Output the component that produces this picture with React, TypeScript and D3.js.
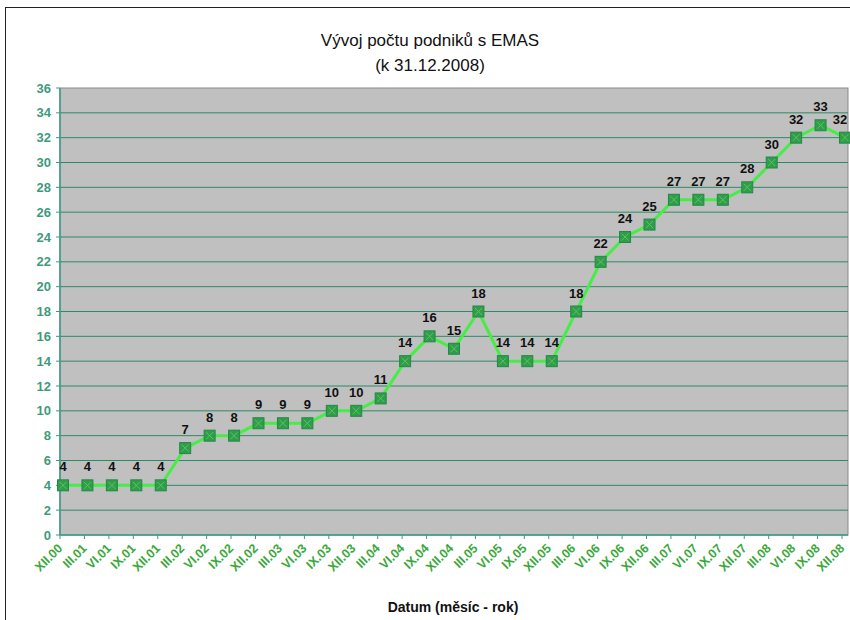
import * as d3 from "d3";

const categories = [
  "XII.00", "III.01", "VI.01", "IX.01", "XII.01", "III.02", "VI.02", "IX.02",
  "XII.02", "III.03", "VI.03", "IX.03", "XII.03", "III.04", "VI.04", "IX.04",
  "XII.04", "III.05", "VI.05", "IX.05", "XII.05", "III.06", "VI.06", "IX.06",
  "XII.06", "III.07", "VI.07", "IX.07", "XII.07", "III.08", "VI.08", "IX.08",
  "XII.08",
];
const counts = [
  4, 4, 4, 4, 4, 7, 8, 8, 9, 9, 9, 10, 10, 11, 14, 16, 15, 18, 14, 14, 14, 18,
  22, 24, 25, 27, 27, 27, 28, 30, 32, 33, 32,
];
const yTicks = d3.range(0, 37, 2);
const title = ["Vývoj počtu podniků s EMAS", "(k 31.12.2008)"];
const xTitle = "Datum (měsíc - rok)";

export default function App() {
  const width = 850;
  const height = 620;
  const plot = { left: 60, right: 848, top: 88, bottom: 535 };

  const x = d3.scalePoint<string>().domain(categories).range([63, 845]);
  const y = d3.scaleLinear().domain([0, 36]).range([plot.bottom, plot.top]);

  const data = categories.map((c, i) => ({ c, v: counts[i] }));
  const line = d3
    .line<{ c: string; v: number }>()
    .x((d) => x(d.c)!)
    .y((d) => y(d.v));

  const font = "Arial, 'Liberation Sans', sans-serif";

  return (
    <svg
      width={width}
      height={height}
      style={{ position: "absolute", left: 0, top: 0, background: "#fff" }}
      fontFamily={font}
    >
      {/* outer frame */}
      <rect x={5.5} y={7.5} width={width} height={height} fill="#fff" stroke="#222" />

      {/* title */}
      <text x={430} y={46} textAnchor="middle" fontSize={17} fill="#111">
        {title[0]}
      </text>
      <text x={430} y={71} textAnchor="middle" fontSize={17} fill="#111">
        {title[1]}
      </text>

      {/* plot area */}
      <rect
        x={plot.left}
        y={plot.top}
        width={plot.right - plot.left}
        height={plot.bottom - plot.top}
        fill="#c0c0c0"
        stroke="#8a8a8a"
      />

      {/* grid + y axis */}
      {yTicks.map((t) => (
        <g key={t} transform={`translate(0,${y(t)})`}>
          {t > 0 && t < 36 && (
            <line x1={plot.left} x2={plot.right} stroke="#2d8a66" strokeWidth={1} />
          )}
          <line x1={plot.left - 4} x2={plot.left} stroke="#3a9a8a" />
          <text
            x={plot.left - 9}
            dy="0.35em"
            textAnchor="end"
            fontSize={13}
            fontWeight="bold"
            fill="#3f9a7c"
          >
            {t}
          </text>
        </g>
      ))}
      <line x1={plot.left} x2={plot.left} y1={plot.top} y2={plot.bottom} stroke="#3a9a8a" strokeWidth={1.5} />
      <line x1={plot.left} x2={plot.right} y1={plot.bottom} y2={plot.bottom} stroke="#3a9a8a" strokeWidth={1.5} />

      {/* x axis */}
      {categories.map((c) => (
        <g key={c} transform={`translate(${x(c)! - 3},0)`}>
          <line y1={plot.bottom} y2={plot.bottom + 4} stroke="#3a9a8a" />
          <text
            transform={`translate(0,${plot.bottom + 11}) rotate(-45)`}
            textAnchor="end"
            dy="0.35em"
            fontSize={12.5}
            fontWeight="bold"
            fill="#3aa83a"
          >
            {c}
          </text>
        </g>
      ))}

      <text
        x={453}
        y={612}
        textAnchor="middle"
        fontSize={14}
        fontWeight="bold"
        fill="#111"
      >
        {xTitle}
      </text>

      {/* line */}
      <path d={line(data)!} fill="none" stroke="#44ee44" strokeWidth={3} />

      {/* markers */}
      {data.map((d) => {
        const cx = x(d.c)!;
        const cy = y(d.v);
        return (
          <g key={d.c} transform={`translate(${cx},${cy})`}>
            <rect x={-5.5} y={-5.5} width={11} height={11} fill="#2f9e4a" stroke="#27864a" />
            <path d="M-3.5,-3.5L3.5,3.5M-3.5,3.5L3.5,-3.5" stroke="#5cc45c" strokeWidth={1} />
          </g>
        );
      })}

      {/* data labels */}
      {data.map((d) => (
        <text
          key={d.c}
          x={Math.min(x(d.c)!, width - 10)}
          y={y(d.v) - 14}
          textAnchor="middle"
          fontSize={13}
          fontWeight="bold"
          fill="#111"
        >
          {d.v}
        </text>
      ))}
    </svg>
  );
}
